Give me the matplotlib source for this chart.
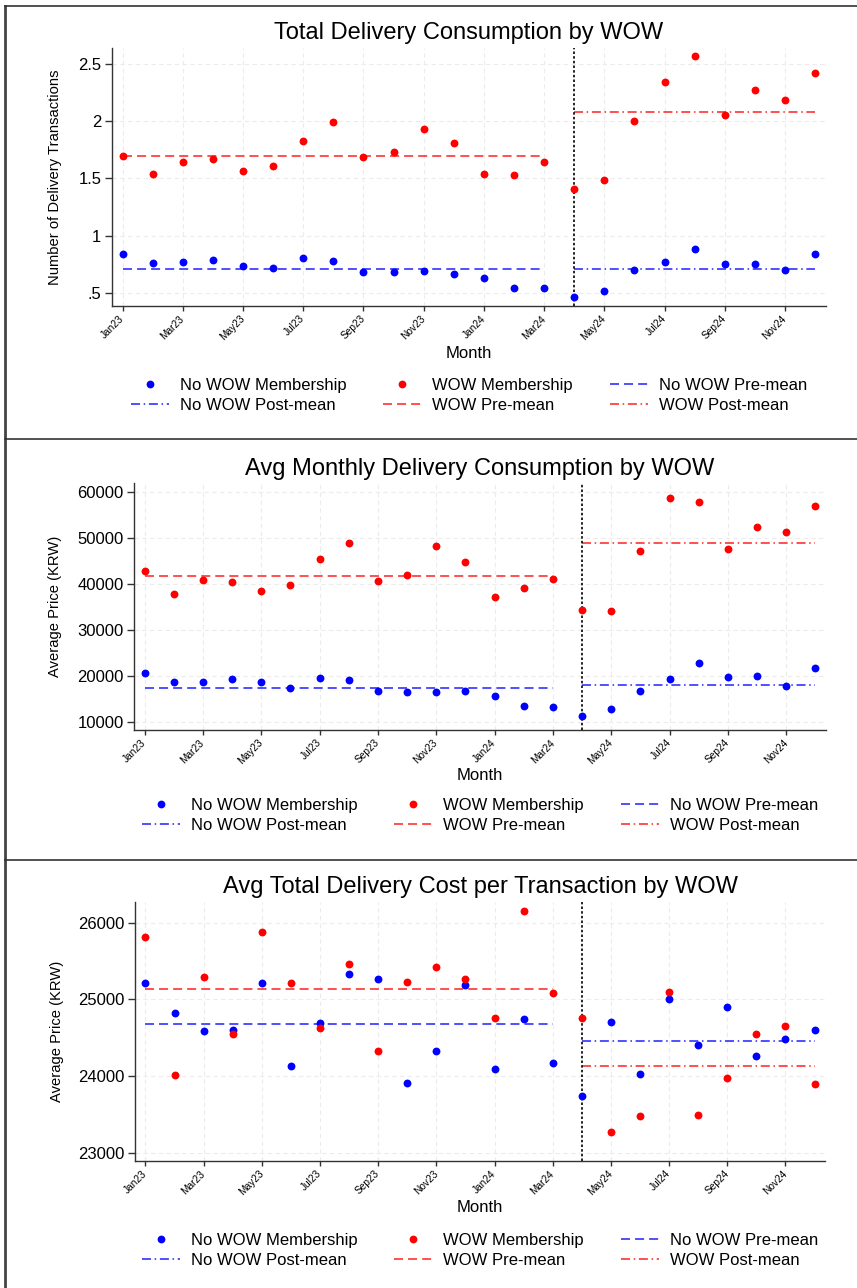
import numpy as np
import matplotlib
matplotlib.use('Agg')
import matplotlib.pyplot as plt
from matplotlib.lines import Line2D

plt.rcParams['font.family'] = ['Liberation Sans', 'DejaVu Sans']

# ---------------- data ----------------
months = ['Jan23', 'Feb23', 'Mar23', 'Apr23', 'May23', 'Jun23', 'Jul23', 'Aug23',
          'Sep23', 'Oct23', 'Nov23', 'Dec23', 'Jan24', 'Feb24', 'Mar24', 'Apr24',
          'May24', 'Jun24', 'Jul24', 'Aug24', 'Sep24', 'Oct24', 'Nov24', 'Dec24']
cutoff_month = 'Apr24'

# Panel 1: Total Delivery Consumption (number of transactions)
p1_wow = [1.70, 1.54, 1.644, 1.67, 1.566, 1.609, 1.83, 1.99, 1.69, 1.73, 1.93, 1.81,
          1.54, 1.53, 1.647, 1.405, 1.49, 2.00, 2.34, 2.57, 2.055, 2.275, 2.19, 2.42]
p1_nowow = [0.838, 0.762, 0.77, 0.786, 0.739, 0.72, 0.808, 0.777, 0.683, 0.683, 0.69, 0.666,
            0.628, 0.541, 0.544, 0.468, 0.517, 0.698, 0.77, 0.884, 0.75, 0.753, 0.703, 0.838]
p1_means = {'wow_pre': 1.697, 'wow_post': 2.083, 'nowow_pre': 0.712, 'nowow_post': 0.712}
p1_yticks = [0.5, 1, 1.5, 2, 2.5]
p1_yticklabels = ['.5', '1', '1.5', '2', '2.5']

# Panel 2: Avg Monthly Delivery Consumption (KRW)
p2_wow = [42780, 37830, 40880, 40450, 38560, 39720, 45390, 48950, 40740, 41980, 48300, 44880,
          37180, 39210, 41030, 34420, 34130, 47210, 58830, 57890, 47720, 52520, 51410, 56950]
p2_nowow = [20610, 18650, 18720, 19300, 18650, 17340, 19590, 19080, 16760, 16400, 16470, 16690,
            15530, 13420, 13130, 11170, 12770, 16620, 19380, 22790, 19680, 19900, 17850, 21700]
p2_means = {'wow_pre': 41830, 'wow_post': 48950, 'nowow_pre': 17340, 'nowow_post': 18000}
p2_yticks = [10000, 20000, 30000, 40000, 50000, 60000]
p2_yticklabels = ['10000', '20000', '30000', '40000', '50000', '60000']

# Panel 3: Avg Total Delivery Cost per Transaction (KRW)
p3_wow = [25813, 24009, 25296, 24543, 25883, 25209, 24630, 25465, 24326, 25230, 25417, 25270,
          24752, 26148, 25083, 24761, 23265, 23483, 25096, 23496, 23970, 24552, 24657, 23896]
p3_nowow = [25209, 24817, 24583, 24596, 25209, 24126, 24687, 25335, 25270, 23913, 24330, 25191,
            24091, 24743, 24174, 23743, 24704, 24022, 25009, 24404, 24904, 24257, 24487, 24596]
p3_means = {'wow_pre': 25139, 'wow_post': 24126, 'nowow_pre': 24683, 'nowow_post': 24457}
p3_yticks = [23000, 24000, 25000, 26000]
p3_yticklabels = ['23000', '24000', '25000', '26000']

titles = ['Total Delivery Consumption by WOW',
          'Avg Monthly Delivery Consumption by WOW',
          'Avg Total Delivery Cost per Transaction by WOW']
ylabels = ['Number of Delivery Transactions', 'Average Price (KRW)', 'Average Price (KRW)']
xlabel = 'Month'
legend_labels = ['No WOW Membership', 'WOW Membership', 'No WOW Pre-mean',
                 'No WOW Post-mean', 'WOW Pre-mean', 'WOW Post-mean']

# ---------------- layout ----------------
W, H = 857, 1288
fig = plt.figure(figsize=(W / 100, H / 100), dpi=100)

BLUE = '#0000ff'
RED = '#ff0000'
BLUE_L = '#2020ff'
RED_L = '#ff2020'
LW = 1.1
DASH = (0, (5.9, 3.3))
DASHDOT = (0, (5.9, 2.4, 1.0, 2.4))


def frac_rect(l, t, r, b):
    return [l / W, 1 - b / H, (r - l) / W, (b - t) / H]


panels = [
    dict(rect=(111.7, 48, 826, 306), ylim=(0.386, 2.64), yt=p1_yticks, ytl=p1_yticklabels,
         wow=p1_wow, nowow=p1_nowow, means=p1_means, title_y=33, ylabel_x=55,
         month_y=353, legend_y=395.5),
    dict(rect=(134, 483, 826, 730), ylim=(8190, 62030), yt=p2_yticks, ytl=p2_yticklabels,
         wow=p2_wow, nowow=p2_nowow, means=p2_means, title_y=469, ylabel_x=55,
         month_y=775, legend_y=815.5),
    dict(rect=(135, 902, 825, 1161), ylim=(22892, 26270), yt=p3_yticks, ytl=p3_yticklabels,
         wow=p3_wow, nowow=p3_nowow, means=p3_means, title_y=887, ylabel_x=57,
         month_y=1208, legend_y=1250.5),
]

x = np.arange(len(months))
cut = months.index(cutoff_month)
major = x[::2]

for i, p in enumerate(panels):
    ax = fig.add_axes(frac_rect(*p['rect']))
    ax.set_xlim(-0.36, 23.36)
    ax.set_ylim(*p['ylim'])
    ax.set_xticks(major)
    ax.set_xticklabels([months[j] for j in major], rotation=45, ha='right',
                       rotation_mode='anchor', va='center', fontsize=7.3)
    ax.set_yticks(p['yt'])
    ax.set_yticklabels(p['ytl'], fontsize=12)
    ax.tick_params(axis='y', direction='out', length=5, width=1, pad=2.5, color='#333333')
    ax.tick_params(axis='x', direction='out', length=3.5, width=1, pad=4.5, color='#333333')
    for s in ['top', 'right']:
        ax.spines[s].set_visible(False)
    for s in ['left', 'bottom']:
        ax.spines[s].set_color('#333333')
        ax.spines[s].set_linewidth(1.0)
    ax.grid(True, color='#ececec', linestyle=(0, (4, 3)), linewidth=0.8)
    ax.set_axisbelow(True)

    m = p['means']
    ax.hlines(m['nowow_pre'], x[0], x[cut - 1], colors=BLUE_L, linestyles=DASH, linewidth=LW, zorder=2)
    ax.hlines(m['nowow_post'], x[cut], x[-1], colors=BLUE_L, linestyles=DASHDOT, linewidth=LW, zorder=2)
    ax.hlines(m['wow_pre'], x[0], x[cut - 1], colors=RED_L, linestyles=DASH, linewidth=LW, zorder=2)
    ax.hlines(m['wow_post'], x[cut], x[-1], colors=RED_L, linestyles=DASHDOT, linewidth=LW, zorder=2)
    ax.axvline(x[cut], color='black', linestyle=(0, (1.5, 1.3)), linewidth=1.2, zorder=2)

    ax.scatter(x, p['nowow'], s=32, color=BLUE, linewidths=0, zorder=3)
    ax.scatter(x, p['wow'], s=32, color=RED, linewidths=0, zorder=3)

    l, t, r, b = p['rect']
    cx = (l + r) / 2 / W
    fig.text(cx, 1 - p['title_y'] / H, titles[i], ha='center', va='center', fontsize=17)
    fig.text(p['ylabel_x'] / W, 1 - (t + b) / 2 / H, ylabels[i], rotation=90,
             ha='center', va='center', fontsize=10.6)
    fig.text(cx, 1 - p['month_y'] / H, xlabel, ha='center', va='center', fontsize=12)

    h_nw = Line2D([], [], marker='o', color=BLUE, linestyle='none', markersize=5.6, markeredgewidth=0)
    h_w = Line2D([], [], marker='o', color=RED, linestyle='none', markersize=5.6, markeredgewidth=0)
    h_nw_pre = Line2D([], [], color=BLUE_L, linestyle=DASH, linewidth=LW)
    h_nw_post = Line2D([], [], color=BLUE_L, linestyle=DASHDOT, linewidth=LW)
    h_w_pre = Line2D([], [], color=RED_L, linestyle=DASH, linewidth=LW)
    h_w_post = Line2D([], [], color=RED_L, linestyle=DASHDOT, linewidth=LW)
    handles = [h_nw, h_nw_post, h_w, h_w_pre, h_nw_pre, h_w_post]
    labels = [legend_labels[0], legend_labels[3], legend_labels[1],
              legend_labels[4], legend_labels[2], legend_labels[5]]
    fig.legend(handles, labels, loc='center', bbox_to_anchor=(cx, 1 - p['legend_y'] / H),
               ncol=3, frameon=False, fontsize=12, handlelength=2.3, handletextpad=0.65,
               columnspacing=2.2, labelspacing=0.32, borderpad=0, borderaxespad=0)

# panel borders
border_kw = dict(color='#333333', linewidth=1.2, transform=fig.transFigure)
fig.add_artist(Line2D([5 / W, 5 / W], [0, 1 - 6 / H], linewidth=2.0, color='#444444',
                      transform=fig.transFigure))
for yb in [6, 439, 860]:
    fig.add_artist(Line2D([5 / W, 1], [1 - yb / H, 1 - yb / H], **border_kw))

fig.savefig('out.png', dpi=100)
